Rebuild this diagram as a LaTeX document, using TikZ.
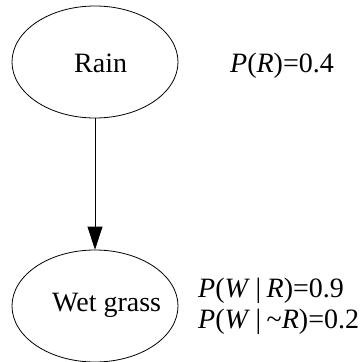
\documentclass[tikz,border=0pt]{standalone}
\usepackage{fontspec}
\setmainfont{Liberation Serif}
\usetikzlibrary{shapes.geometric,arrows.meta}

\newcommand{\gap}{\hspace{5.5pt}}

\begin{document}
\begin{tikzpicture}[x=1pt,y=-1pt,
  bubble/.style={draw,ellipse,line width=0.8pt,inner sep=0pt,
    minimum width=166pt,minimum height=112pt},
  txt/.style={anchor=base west,inner sep=0pt,
    font=\fontsize{28}{34}\selectfont}]
\useasboundingbox (0,0) rectangle (362,362);
\node[bubble] (rain) at (95,62) {};
\node[bubble] (wet) at (95,306) {};
\node[txt] (rainlbl) at (74,72) {Rain};
\node[txt] (wetlbl) at (52,311) {Wet grass};
\draw[line width=0.8pt,-{Triangle[length=23pt,width=15pt]}] (rain) -- (wet);
\node[txt] (prain) at (230,72) {\textit{P}(\textit{R})=0.4};
\node[txt] (pwet) at (198,297) {\textit{P}(\textit{W}\gap|\gap\textit{R})=0.9};
\node[txt] (pwetnot) at (198,328) {\textit{P}(\textit{W}\gap|\gap\char`\~\textit{R})=0.2};
\end{tikzpicture}
\end{document}
